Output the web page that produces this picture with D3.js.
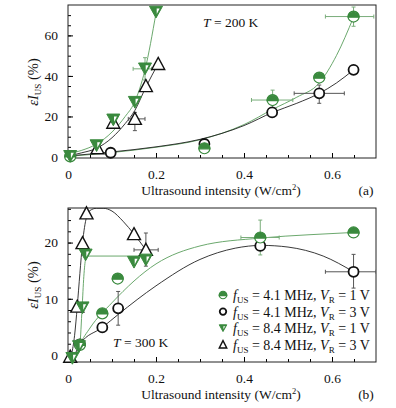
<!DOCTYPE html>
<html>
<head>
<meta charset="utf-8">
<script src="https://cdn.jsdelivr.net/npm/d3@7"></script>
<style>
  body { margin: 0; background: #fff; }
  text { font-family: "Liberation Serif", "Times New Roman", serif; fill: #111; }
</style>
</head>
<body>
<script>
// ---- tick labels ----
var xMajorTicks = [0, 0.2, 0.4, 0.6];
var yMajorTicksA = [0, 20, 40, 60];
var yMajorTicksB = [0, 10, 20];

// ---- panel (a), T = 200 K ----
var a41_1V_x = [0.005, 0.31, 0.465, 0.571, 0.649];
var a41_1V_y = [0.3, 4.3, 28.1, 39.2, 69.3];
var a41_3V_x = [0.097, 0.31, 0.464, 0.571, 0.649];
var a41_3V_y = [2.1, 6.4, 22, 31.4, 43];
var a84_1V_x = [0.005, 0.065, 0.103, 0.152, 0.175, 0.2];
var a84_1V_y = [0.3, 5.6, 18.3, 27, 43.5, 71.5];
var a84_3V_x = [0.067, 0.103, 0.152, 0.177, 0.205];
var a84_3V_y = [4.3, 16.9, 18.8, 35, 45.9];

// fitted curves
var fitA41_1V_x = [0, 0.1, 0.2, 0.3, 0.4, 0.465, 0.52, 0.571, 0.61, 0.649];
var fitA41_1V_y = [0.3, 2.2, 4.8, 8.5, 16, 23.5, 29.5, 36.5, 50, 69];
var fitA41_3V_x = [0, 0.1, 0.2, 0.3, 0.4, 0.465, 0.52, 0.571, 0.61, 0.649];
var fitA41_3V_y = [0.5, 2.5, 5, 8.7, 15.5, 22, 26.5, 31.4, 36.5, 43];
var fitA84_1V_x = [0, 0.03, 0.065, 0.1, 0.13, 0.15, 0.175, 0.2];
var fitA84_1V_y = [1.5, 3.2, 6.4, 12.3, 20, 26.5, 43, 71];
var fitA84_3V_x = [0, 0.03, 0.065, 0.1, 0.13, 0.152, 0.177, 0.205];
var fitA84_3V_y = [0.5, 2, 4.3, 9.5, 16.5, 23, 34.5, 46];

// error bars (a): x, y, xlo, xhi, ylo, yhi
var errA_green = [
  [0.465, 28.1, 0.417, 0.511, 23, 33],
  [0.649, 69.3, 0.585, 0.695, 64.5, 74],
  [0.175, 43.5, 0.148, 0.19, 38, 49]
];
var errA_gray = [
  [0.571, 31.4, 0.514, 0.628, 26.5, 35.5],
  [0.152, 18.8, 0.137, 0.175, 13, 22]
];

// ---- panel (b), T = 300 K ----
var b41_1V_x = [0.027, 0.078, 0.113, 0.437, 0.649];
var b41_1V_y = [1.8, 7.4, 13.6, 20.9, 21.8];
var b41_3V_x = [0.027, 0.078, 0.114, 0.437, 0.649];
var b41_3V_y = [1.9, 4.9, 8.3, 19.4, 14.8];
var b84_1V_x = [0.01, 0.025, 0.033, 0.04, 0.15, 0.177];
var b84_1V_y = [-0.6, 1.5, 8.4, 17.8, 16.5, 16.9];
var b84_3V_x = [0.005, 0.021, 0.033, 0.042, 0.15, 0.177];
var b84_3V_y = [-0.3, 8.6, 19.9, 25.2, 21.5, 18.7];

var fitB41_1V_x = [0.018, 0.027, 0.05, 0.1, 0.2, 0.3, 0.437, 0.55, 0.649];
var fitB41_1V_y = [0, 1.8, 4.8, 9.3, 16.2, 19.4, 20.8, 21.4, 21.8];
var fitB41_3V_x = [0.018, 0.027, 0.078, 0.114, 0.2, 0.3, 0.38, 0.44, 0.5, 0.58, 0.649];
var fitB41_3V_y = [0.5, 1.9, 4.9, 7.2, 12.3, 17.0, 19.0, 19.5, 19.2, 17.6, 14.8];
var fitB84_1V_x = [0.018, 0.027, 0.032, 0.036, 0.04, 0.045, 0.1, 0.177];
var fitB84_1V_y = [0, 2, 8.3, 14, 17, 17.6, 17.6, 17.6];
var fitB84_3V_x = [0.008, 0.015, 0.021, 0.027, 0.033, 0.042, 0.05, 0.065, 0.08, 0.1, 0.125, 0.15, 0.177];
var fitB84_3V_y = [0, 3.5, 8.6, 14.5, 19.9, 24.5, 25.7, 26.1, 26.1, 25.6, 23.8, 21.5, 18.7];

var errB_green = [
  [0.437, 20.9, 0.393, 0.48, 17.8, 24]
];
var errB_gray = [
  [0.177, 18.7, 0.15, 0.205, 15.8, 21.7],
  [0.114, 8.3, null, null, 5.3, 11.3],
  [0.649, 14.8, 0.585, 0.7, 11.9, 17.9]
];

var legendLabels = [
  ["4.1 MHz", "1 V"],
  ["4.1 MHz", "3 V"],
  ["8.4 MHz", "1 V"],
  ["8.4 MHz", "3 V"]
];

// ---- layout ----
var svgWidth = 396, svgHeight = 408;
var left = 68, right = 376;
var green = "#3a8a3e", greenLine = "#5a9e5c", greenErr = "#79ad7a", grayErr = "#555";

var svg = d3.select("body").append("svg")
  .attr("width", svgWidth)
  .attr("height", svgHeight)
  .style("background", "#fff");

var xScale = d3.scaleLinear().domain([0, 0.7]).range([left, right]);

function zip(xs, ys) {
  return xs.map(function(x, i) { return [x, ys[i]]; });
}

// marker shapes
function drawMarker(g, type, size) {
  var r = size / 2;
  if (type == "half") {
    g.append("circle").attr("r", r).attr("fill", "#fff").attr("stroke", green).attr("stroke-width", 1.2);
    g.append("path")
      .attr("d", "M" + (-r) + ",0.6 A" + r + "," + r + " 0 0 1 " + r + ",0.6 Z")
      .attr("fill", green).attr("stroke", green).attr("stroke-width", 1.2);
  } else if (type == "circle") {
    g.append("circle").attr("r", r - 0.5).attr("fill", "#fff").attr("stroke", "#111").attr("stroke-width", 1.8);
  } else if (type == "down") {
    var h = size * 0.9;
    g.append("path")
      .attr("d", "M" + (-r) + "," + (-h / 2) + " L" + r + "," + (-h / 2) + " L0," + (h / 2) + " Z")
      .attr("fill", green).attr("stroke", green).attr("stroke-width", 1);
    g.append("path")
      .attr("d", "M" + (r * 0.1) + "," + (-h / 2 + size * 0.18) + " L" + (r - size * 0.22) + "," + (-h / 2 + size * 0.18) +
        " L" + (r * 0.12) + "," + (h / 2 - size * 0.3) + " Z")
      .attr("fill", "#fff");
  } else if (type == "up") {
    var h2 = size * 0.85;
    g.append("path")
      .attr("d", "M0," + (-h2 / 2 - 1) + " L" + r + "," + (h2 / 2) + " L" + (-r) + "," + (h2 / 2) + " Z")
      .attr("fill", "#fff").attr("stroke", "#111").attr("stroke-width", 1.4);
  }
}

function drawPanel(cfg) {
  var yScale = d3.scaleLinear().domain(cfg.yDomain).range([cfg.bottom, cfg.top]);
  var g = svg.append("g");

  g.append("clipPath").attr("id", "clip" + cfg.name)
    .append("rect").attr("x", left).attr("y", cfg.top).attr("width", right - left).attr("height", cfg.bottom - cfg.top);

  // axes (ticks pointing inward)
  g.append("g")
    .attr("transform", "translate(0," + cfg.bottom + ")")
    .call(d3.axisBottom(xScale).tickValues(d3.range(0, 0.7, 0.05)).tickSize(-3).tickFormat(""))
    .call(function(a) { a.select(".domain").remove(); });
  var xAx = g.append("g")
    .attr("transform", "translate(0," + cfg.bottom + ")")
    .call(d3.axisBottom(xScale).tickValues(xMajorTicks).tickSize(-5).tickPadding(11).tickFormat(d3.format("~g")));
  xAx.select(".domain").remove();
  xAx.selectAll("text").attr("font-size", 13.5).attr("font-family", "Liberation Serif").attr("fill", "#111");

  g.append("g")
    .attr("transform", "translate(" + left + ",0)")
    .call(d3.axisLeft(yScale).tickValues(d3.range(0, cfg.yDomain[1], cfg.yMinor)).tickSize(-3).tickFormat(""))
    .call(function(a) { a.select(".domain").remove(); });
  var yAx = g.append("g")
    .attr("transform", "translate(" + left + ",0)")
    .call(d3.axisLeft(yScale).tickValues(cfg.yMajor).tickSize(-5).tickPadding(10));
  yAx.select(".domain").remove();
  yAx.selectAll("text").attr("font-size", 13.5).attr("font-family", "Liberation Serif").attr("fill", "#111");

  g.append("rect")
    .attr("x", left).attr("y", cfg.top)
    .attr("width", right - left).attr("height", cfg.bottom - cfg.top)
    .attr("fill", "none").attr("stroke", "#222").attr("stroke-width", 1);

  // fitted curves
  var line = d3.line()
    .x(function(d) { return xScale(d[0]); })
    .y(function(d) { return yScale(d[1]); })
    .curve(d3.curveMonotoneX);
  cfg.fits.forEach(function(f) {
    g.append("path")
      .attr("d", line(zip(f.x, f.y)))
      .attr("clip-path", "url(#clip" + cfg.name + ")")
      .attr("fill", "none")
      .attr("stroke", f.color)
      .attr("stroke-width", 0.9);
  });

  // error bars
  function errBars(list, color) {
    list.forEach(function(e) {
      var eg = g.append("g").attr("stroke", color).attr("stroke-width", 1)
        .attr("clip-path", "url(#clip" + cfg.name + ")");
      var cx = xScale(e[0]), cy = yScale(e[1]);
      if (e[2] != null) {
        eg.append("line").attr("x1", xScale(e[2])).attr("x2", xScale(e[3])).attr("y1", cy).attr("y2", cy);
        eg.append("line").attr("x1", xScale(e[2])).attr("x2", xScale(e[2])).attr("y1", cy - 2).attr("y2", cy + 2);
        eg.append("line").attr("x1", xScale(e[3])).attr("x2", xScale(e[3])).attr("y1", cy - 2).attr("y2", cy + 2);
      }
      eg.append("line").attr("x1", cx).attr("x2", cx).attr("y1", yScale(e[4])).attr("y2", yScale(e[5]));
      eg.append("line").attr("x1", cx - 2).attr("x2", cx + 2).attr("y1", yScale(e[4])).attr("y2", yScale(e[4]));
      eg.append("line").attr("x1", cx - 2).attr("x2", cx + 2).attr("y1", yScale(e[5])).attr("y2", yScale(e[5]));
    });
  }
  errBars(cfg.errGray, grayErr);
  errBars(cfg.errGreen, greenErr);

  // markers
  cfg.series.forEach(function(s) {
    g.selectAll(null)
      .data(zip(s.x, s.y))
      .enter()
      .append("g")
      .attr("transform", function(d) { return "translate(" + xScale(d[0]) + "," + yScale(d[1]) + ")"; })
      .each(function() { drawMarker(d3.select(this), s.type, s.type == "up" || s.type == "down" ? 13 : 11); });
  });

  // y axis title
  var yt = g.append("text")
    .attr("transform", "translate(38," + cfg.yTitleY + ") rotate(-90)")
    .attr("text-anchor", "middle")
    .attr("font-size", 14.5);
  yt.append("tspan").attr("font-style", "italic").text("\u03b5I");
  yt.append("tspan").attr("font-size", 9).attr("dy", 3).text("US");
  yt.append("tspan").attr("dy", -3).text(" (%)");

  // x axis title
  var xt = g.append("text")
    .attr("x", 221).attr("y", cfg.bottom + 37)
    .attr("text-anchor", "middle")
    .attr("font-size", 13.5);
  xt.append("tspan").text("Ultrasound intensity (W/cm");
  xt.append("tspan").attr("font-size", 8.5).attr("dy", -5).text("2");
  xt.append("tspan").attr("dy", 5).text(")");

  g.append("text")
    .attr("x", 366).attr("y", cfg.bottom + 37)
    .attr("text-anchor", "middle")
    .attr("font-size", 13.5)
    .text(cfg.letter);

  // temperature label
  var tt = g.append("text").attr("x", cfg.tPos[0]).attr("y", cfg.tPos[1]).attr("font-size", 13.5);
  tt.append("tspan").attr("font-style", "italic").text("T");
  tt.append("tspan").text(" = " + cfg.tLabel);

  return g;
}

drawPanel({
  name: "A", top: 5, bottom: 158, yDomain: [-0.5, 75], yMajor: yMajorTicksA, yMinor: 5,
  yTitleY: 82, letter: "(a)", tLabel: "200 K", tPos: [203, 27],
  fits: [
    { x: fitA41_1V_x, y: fitA41_1V_y, color: greenLine },
    { x: fitA41_3V_x, y: fitA41_3V_y, color: "#222" },
    { x: fitA84_3V_x, y: fitA84_3V_y, color: "#222" },
    { x: fitA84_1V_x, y: fitA84_1V_y, color: greenLine }
  ],
  errGreen: errA_green, errGray: errA_gray,
  series: [
    { x: a41_3V_x, y: a41_3V_y, type: "circle" },
    { x: a41_1V_x, y: a41_1V_y, type: "half" },
    { x: a84_3V_x, y: a84_3V_y, type: "up" },
    { x: a84_1V_x, y: a84_1V_y, type: "down" }
  ]
});

var gb = drawPanel({
  name: "B", top: 208, bottom: 362, yDomain: [-1.25, 26.15], yMajor: yMajorTicksB, yMinor: 2,
  yTitleY: 285, letter: "(b)", tLabel: "300 K", tPos: [113, 347],
  fits: [
    { x: fitB41_1V_x, y: fitB41_1V_y, color: greenLine },
    { x: fitB41_3V_x, y: fitB41_3V_y, color: "#222" },
    { x: fitB84_1V_x, y: fitB84_1V_y, color: greenLine },
    { x: fitB84_3V_x, y: fitB84_3V_y, color: "#222" }
  ],
  errGreen: errB_green, errGray: errB_gray,
  series: [
    { x: b41_3V_x, y: b41_3V_y, type: "circle" },
    { x: b41_1V_x, y: b41_1V_y, type: "half" },
    { x: b84_3V_x, y: b84_3V_y, type: "up" },
    { x: b84_1V_x, y: b84_1V_y, type: "down" }
  ]
});

// legend
var legendTypes = ["half", "circle", "down", "up"];
var legend = gb.append("g");
legendLabels.forEach(function(lab, i) {
  var y = 295 + i * 16.6;
  var m = legend.append("g").attr("transform", "translate(223," + y + ")");
  drawMarker(m, legendTypes[i], 7.5);
  var t = legend.append("text").attr("x", 233).attr("y", y + 5).attr("font-size", 14);
  t.append("tspan").attr("font-style", "italic").text("f");
  t.append("tspan").attr("font-size", 9).attr("dy", 3).text("US");
  t.append("tspan").attr("dy", -3).text(" = " + lab[0] + ", ");
  t.append("tspan").attr("font-style", "italic").text("V");
  t.append("tspan").attr("font-size", 9).attr("dy", 3).text("R");
  t.append("tspan").attr("dy", -3).text(" = " + lab[1]);
});
</script>
</body>
</html>
